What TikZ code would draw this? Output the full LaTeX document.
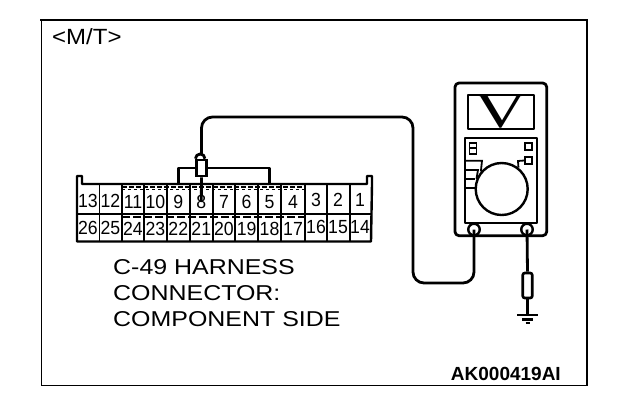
\documentclass[tikz,border=0pt]{standalone}
\usepackage{fontspec}
\setmainfont{Liberation Sans}
\newfontfamily\vfont{Liberation Serif}
\usetikzlibrary{calc}

\begin{document}
\begin{tikzpicture}[
    x=1pt, y=-1pt,
    wire/.style={draw=black, line width=2.8pt, line join=round},
    thinwire/.style={draw=black, line width=1.8pt},
    cellnum/.style={inner sep=0pt, font=\fontsize{19}{19}\selectfont, xscale=0.93},
    label/.style={inner sep=0pt, anchor=north west, align=left, xscale=1.16, font=\fontsize{21.5}{26}\selectfont},
    probebox/.style={draw=black, line width=2.6pt, fill=white, minimum width=9.5pt, inner sep=0pt},
    terminal/.style={circle, draw=black, line width=2.4pt, fill=white, minimum size=11.5pt, inner sep=0pt},
    smallbox/.style={draw=black, line width=1.6pt, fill=white, minimum width=7pt, minimum height=7pt, inner sep=0pt}
    ]
        \useasboundingbox (0,0) rectangle (624,408);
        \fill[white] (0,0) rectangle (624,408);
        \draw[line width=1.4pt] (41.5,20) -- (41.5,385.5) -- (587,385.5) -- (587,20);
        \draw[line width=2.2pt] (40,20) -- (587.6,20);

        \node[inner sep=0pt, anchor=base west, xscale=1.09, font=\fontsize{22}{22}\selectfont] (modelname) at (52,44) {<M/T>};
        \node[label] (harness) at (113,259.5) {C-49 HARNESS\\CONNECTOR:\\COMPONENT SIDE};
        \node[inner sep=0pt, anchor=base east, font=\fontsize{19}{19}\selectfont\bfseries] (partno) at (561,380) {AK000419AI};

        % connector body
        \draw[wire, line width=2.4pt] (77,241.5) -- (77,176) -- (82,176) -- (82,184) -- (367,184) -- (367,176) -- (372,176) -- (372,184) -- (371,241.5) -- cycle;
        \draw[thinwire] (77,214) -- (371,214);
        \foreach \x in {99.5,121.7,144.3,166.7,190,212.7,235,258.3,280.7,305,326.7,350} {
            \draw[thinwire] (\x,184) -- (\x,241.5);
        }
        % latch strips
        \draw[line width=1.8pt, dash pattern=on 5pt off 2pt] (122,187) -- (305,187);
        \draw[line width=1.4pt, dash pattern=on 3pt off 3pt] (122,189.5) -- (305,189.5);
        \draw[line width=1.8pt, dash pattern=on 8pt off 3pt] (122,216.7) -- (305,216.7);

        \foreach \n/\x/\y in {13/88/201,12/110.5/201,11/133/202,10/155.5/202,9/178.3/202,8/201.3/202,7/224/202,6/246.6/202,5/269.5/202,4/293/202,3/316/200,2/338/200,1/360/200,
                              26/88/228,25/110.5/228,24/133/228.5,23/155.5/228.5,22/178.3/228.5,21/201.3/228.5,20/224/228.5,19/246.6/228.5,18/269.5/228.5,17/293/228.5,16/316/227,15/338/227,14/360/227} {
            \node[cellnum] (pin\n) at (\x,\y) {\n};
        }

        % meter
        \draw[wire, rounded corners=4pt] (455,83) rectangle (546.7,235.7);
        \draw[wire, line width=2.2pt] (468,95) rectangle (534,129);
        \node[inner sep=0pt, xscale=1.45, font=\fontsize{50}{50}\selectfont\vfont] (unit) at (501,112) {V};
        \draw[wire, line width=2.2pt] (465,138) rectangle (536.7,223);
        \node[circle, draw=black, line width=2.4pt, minimum size=52pt, inner sep=0pt] (dial) at (501.7,189) {};
        \node[smallbox, minimum height=5.5pt] (rangeA) at (473,145.5) {};
        \node[smallbox, minimum height=5.5pt] (rangeB) at (473,151) {};
        \node[smallbox] (btnA) at (528.5,146.5) {};
        \node[smallbox] (btnB) at (528.5,160.5) {};
        \draw[thinwire] (465,160.7) -- (482,160.7) -- (dial.140);
        \draw[thinwire] (465,170) -- (478,170) -- (dial.158);
        \draw[thinwire] (465,179) -- (dial.west |- 465,179);
        \draw[thinwire] (465,188) -- (dial.west |- 465,188);
        \draw[thinwire] (btnB.west) -- (518,161) -- (dial.52);

        \node[terminal] (termL) at (474,229.5) {};
        \node[terminal] (termR) at (527,229.5) {};

        % loop to the connector
        \node[probebox, minimum height=16pt] (probeA) at (201.5,168) {};
        \draw[wire] (probeA.north west) arc[start angle=180, end angle=0, radius=4.75pt];
        \coordinate (probeTop) at ($(probeA.north)+(0,-4.75)$);
        \coordinate (wireNE) at (413,117);
        \coordinate (wireSW) at (413,283);
        \coordinate (wireSE) at (474,283);
        \draw[wire, rounded corners=11pt] (probeTop) |- (wireNE) -- (wireSW) -- (wireSE) -- (termL.center);
        \draw[wire] (probeA.south) -- (pin8.center);
        \draw[wire, line width=2.4pt] (178.3,184) |- (probeA.west);
        \draw[wire, line width=2.4pt] (269.3,184) |- (probeA.east);

        % ground lead
        \node[probebox, rounded corners=2pt, minimum height=25pt] (probeB) at (527.5,285.5) {};
        \coordinate (gnd) at (527.5,315);
        \draw[wire] (termR.center) -- (probeB.north);
        \draw[wire] (probeB.south) -- (gnd);
        \draw[wire] (517,315) -- (538,315);
        \draw[wire] (522,319.3) -- (533,319.3);
        \draw[wire] (525.5,323) -- (529.5,323);
\end{tikzpicture}
\end{document}
